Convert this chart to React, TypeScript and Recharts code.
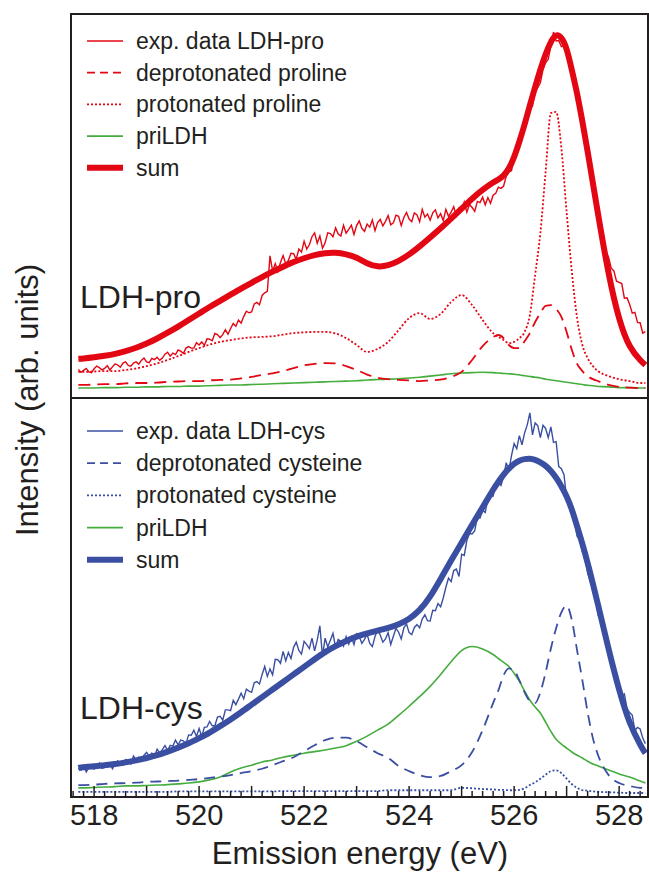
import React from "react";
import { LineChart, Line, XAxis, YAxis, Legend } from "recharts";

// energy axis (eV)
const X_MIN = 517.56;
const X_MAX = 528.55;
const TICKS = Array.from({ length: 55 }, (_, i) => Math.round((517.6 + i * 0.2) * 10) / 10);

// grid of the fitted components
const E_FIT = [
  517.7, 517.8, 518.0, 518.2, 518.4, 518.6, 518.8, 519.0, 519.2, 519.4,
  519.6, 519.8, 520.0, 520.2, 520.4, 520.6, 520.8, 521.0, 521.2, 521.4,
  521.6, 521.8, 522.0, 522.2, 522.4, 522.6, 522.8, 523.0, 523.2, 523.4,
  523.6, 523.8, 524.0, 524.2, 524.4, 524.6, 524.8, 525.0, 525.2, 525.4,
  525.6, 525.7, 525.8, 525.9, 526.0, 526.1, 526.2, 526.3, 526.4, 526.5,
  526.6, 526.7, 526.8, 526.9, 527.0, 527.1, 527.2, 527.3, 527.4, 527.5,
  527.6, 527.8, 528.0, 528.2, 528.4, 528.5,
];

// LDH-pro fit components
const PRO_SUM = [
  10.2, 10.3, 10.6, 11.0, 11.5, 12.2, 13.1, 14.2, 15.5, 17.0,
  18.6, 20.3, 22.0, 23.7, 25.3, 26.9, 28.5, 30.0, 31.5, 32.9,
  34.2, 35.4, 36.4, 37.2, 37.7, 37.8, 37.4, 36.5, 35.1, 34.3,
  34.6, 35.7, 37.4, 39.5, 41.8, 44.2, 46.7, 49.3, 51.9, 54.2,
  56.1, 56.9, 58.0, 59.8, 62.8, 66.8, 71.3, 76.2, 81.0, 85.5,
  89.5, 92.7, 94.4, 93.7, 90.8, 85.4, 79.2, 72.0, 64.2, 56.0,
  47.8, 32.5, 20.8, 13.6, 9.9, 8.6,
];
const PRO_DEPROT = [
  3.4, 3.4, 3.5, 3.6, 3.6, 3.8, 3.9, 3.9, 4.0, 4.2,
  4.3, 4.4, 4.4, 4.6, 4.7, 4.8, 5.1, 5.5, 6.0, 6.4,
  7.0, 7.8, 8.5, 8.9, 9.1, 9.0, 8.3, 7.3, 6.1, 5.3,
  4.9, 4.7, 4.6, 4.4, 4.6, 4.8, 5.5, 6.8, 9.9, 13.5,
  15.9, 16.4, 15.6, 13.8, 13.0, 13.0, 14.8, 16.9, 19.8, 22.1,
  24.0, 24.2, 23.2, 21.1, 17.2, 12.5, 8.9, 7.0, 5.7, 4.9,
  4.4, 3.4, 2.9, 2.7, 2.6, 2.6,
];
const PRO_PROT = [
  6.8, 6.8, 6.9, 7.0, 7.0, 7.3, 7.7, 8.3, 9.0, 9.9,
  10.9, 12.0, 13.0, 13.9, 14.6, 15.1, 15.5, 15.8, 15.9, 16.1,
  16.5, 16.9, 17.1, 17.2, 17.2, 16.8, 15.6, 13.8, 12.0, 12.8,
  14.6, 17.7, 20.8, 22.1, 20.6, 21.9, 25.0, 26.8, 24.2, 20.3,
  16.9, 15.9, 15.1, 14.3, 14.6, 15.6, 17.2, 21.6, 32.0, 43.0,
  58.9, 74.2, 74.5, 65.1, 48.4, 32.8, 20.8, 13.8, 10.4, 8.3,
  7.0, 5.7, 4.9, 4.4, 3.9, 3.9,
];
const PRO_PRILDH = [
  2.6, 2.6, 2.6, 2.7, 2.7, 2.8, 2.8, 2.9, 2.9, 3.0,
  3.0, 3.1, 3.1, 3.2, 3.3, 3.4, 3.4, 3.5, 3.6, 3.7,
  3.8, 3.9, 4.0, 4.1, 4.2, 4.3, 4.4, 4.5, 4.7, 4.8,
  4.9, 5.0, 5.2, 5.4, 5.7, 6.0, 6.3, 6.5, 6.6, 6.7,
  6.6, 6.5, 6.4, 6.3, 6.2, 6.0, 5.8, 5.6, 5.4, 5.2,
  4.9, 4.7, 4.5, 4.3, 4.1, 3.9, 3.7, 3.5, 3.3, 3.2,
  3.0, 2.9, 2.7, 2.7, 2.6, 2.6,
];

// LDH-cys fit components
const CYS_SUM = [
  7.3, 7.5, 7.7, 8.0, 8.3, 8.7, 9.2, 9.8, 10.5, 11.4,
  12.4, 13.5, 14.8, 16.2, 17.8, 19.5, 21.3, 23.2, 25.1, 27.0,
  28.9, 30.8, 32.7, 34.6, 36.4, 37.9, 39.2, 40.3, 41.1, 41.8,
  42.5, 43.4, 44.8, 47.0, 50.4, 54.8, 59.4, 63.9, 68.4, 72.8,
  77.2, 79.2, 81.0, 82.5, 83.7, 84.5, 84.9, 85.0, 84.7, 84.1,
  83.2, 81.9, 80.2, 78.1, 75.5, 72.2, 68.0, 63.6, 58.8, 53.6,
  48.2, 37.2, 27.0, 18.8, 13.2, 11.0,
];
const CYS_DEPROT = [
  3.0, 3.0, 3.1, 3.3, 3.4, 3.5, 3.6, 3.8, 3.9, 4.0,
  4.1, 4.3, 4.5, 4.8, 5.1, 5.5, 6.0, 6.5, 7.1, 8.0,
  9.0, 10.0, 11.5, 13.0, 14.3, 14.9, 14.9, 14.0, 12.5, 11.0,
  9.8, 7.8, 6.5, 5.5, 5.0, 5.3, 6.5, 8.0, 11.3, 16.8,
  23.6, 26.8, 30.6, 32.3, 31.8, 29.3, 26.3, 24.1, 23.6, 26.3,
  31.3, 37.3, 42.4, 46.4, 48.1, 44.4, 36.8, 29.3, 21.3, 14.8,
  10.5, 5.5, 3.5, 2.8, 2.3, 2.3,
];
const CYS_PROT = [
  1.3, 1.3, 1.3, 1.3, 1.3, 1.3, 1.3, 1.3, 1.3, 1.3,
  1.4, 1.4, 1.4, 1.4, 1.4, 1.4, 1.4, 1.4, 1.4, 1.4,
  1.5, 1.5, 1.5, 1.5, 1.5, 1.5, 1.5, 1.5, 1.5, 1.5,
  1.7, 1.7, 1.7, 1.7, 1.7, 1.7, 1.7, 2.3, 2.2, 2.0,
  1.9, 1.8, 1.8, 1.7, 1.7, 1.8, 2.2, 3.0, 3.7, 4.6,
  5.6, 6.5, 6.7, 6.0, 4.6, 3.2, 2.3, 1.7, 1.6, 1.4,
  1.3, 1.2, 1.1, 1.0, 1.0, 1.0,
];
const CYS_PRILDH = [
  2.3, 2.3, 2.4, 2.5, 2.6, 2.8, 2.8, 2.9, 3.0, 3.1,
  3.3, 3.5, 3.8, 4.3, 5.0, 6.3, 7.3, 8.0, 8.8, 9.3,
  10.0, 10.5, 11.0, 11.4, 11.8, 12.3, 12.9, 14.0, 15.3, 16.8,
  18.3, 20.5, 22.8, 25.2, 27.8, 30.8, 34.0, 36.8, 37.8, 37.2,
  35.8, 34.8, 33.8, 32.8, 31.1, 29.1, 26.6, 24.3, 22.6, 21.1,
  18.8, 16.5, 14.5, 13.3, 12.3, 11.3, 10.5, 9.8, 9.0, 8.3,
  7.8, 6.8, 5.8, 5.0, 4.0, 3.5,
];

// measured spectra, 0.05 eV steps from 517.70 eV
const PRO_EXP = [
  7.4, 6.7, 7.2, 7.7, 6.8, 6.6, 7.6, 8.3, 7.9, 7.3,
  7.7, 8.4, 7.3, 8.1, 8.9, 8.6, 8.0, 9.1, 9.4, 8.5,
  8.3, 9.1, 9.4, 8.8, 9.8, 10.4, 9.4, 9.2, 10.3, 10.0,
  10.6, 9.8, 10.4, 11.4, 11.9, 10.9, 11.7, 11.3, 12.5, 12.2,
  11.6, 13.0, 13.4, 13.0, 13.0, 14.4, 13.8, 14.6, 13.7, 15.4,
  15.3, 14.9, 16.8, 16.5, 15.7, 16.5, 17.8, 16.6, 18.1, 19.4,
  18.7, 20.3, 19.5, 21.2, 22.6, 22.2, 22.4, 24.5, 24.9, 24.3,
  26.7, 27.4, 27.8, 37.0, 33.1, 35.0, 32.9, 35.3, 37.1, 34.9,
  35.8, 37.7, 37.6, 36.1, 38.8, 38.0, 40.8, 38.8, 39.9, 42.0,
  43.0, 40.3, 42.2, 39.0, 40.4, 43.0, 42.8, 42.0, 44.3, 42.7,
  42.2, 45.0, 42.9, 43.9, 45.0, 42.6, 44.9, 46.1, 44.2, 43.4,
  45.3, 44.5, 46.4, 43.6, 45.7, 46.5, 44.8, 46.0, 47.5, 45.1,
  45.6, 47.6, 47.3, 44.9, 47.0, 48.3, 46.6, 45.9, 48.2, 47.7,
  45.9, 49.1, 47.1, 47.9, 46.3, 48.2, 49.0, 46.9, 48.0, 46.2,
  49.1, 47.3, 48.4, 49.8, 47.4, 49.4, 48.6, 51.0, 48.4, 50.4,
  49.6, 48.6, 51.2, 50.9, 52.3, 50.3, 52.2, 50.7, 52.8, 53.3,
  54.9, 54.6, 55.2, 57.8, 58.9, 59.2, 62.5, 63.9, 65.3, 69.1,
  69.7, 72.6, 75.5, 76.0, 79.6, 80.8, 82.1, 85.5, 87.3, 88.2,
  91.7, 95.3, 93.0, 93.1, 91.5, 91.8, 89.9, 86.6, 85.4, 81.1,
  79.2, 74.9, 73.0, 69.8, 64.7, 59.8, 57.2, 52.2, 46.9, 44.7,
  38.7, 38.2, 36.6, 33.8, 33.1, 30.4, 30.1, 29.8, 26.0, 26.1,
  24.4, 22.1, 22.3, 19.7, 19.6, 16.9, 17.3,
];
const CYS_EXP = [
  7.2, 6.8, 7.9, 6.3, 7.4, 7.9, 7.0, 7.6, 8.5, 7.2,
  7.5, 8.6, 8.4, 7.1, 8.3, 9.1, 8.3, 8.0, 9.4, 9.2,
  8.3, 10.3, 9.4, 10.0, 9.4, 10.5, 11.2, 10.2, 11.0, 10.2,
  12.0, 11.1, 11.9, 12.9, 11.7, 13.0, 12.8, 14.3, 13.1, 14.3,
  14.1, 13.4, 15.6, 15.5, 16.8, 15.2, 17.2, 15.2, 17.5, 17.6,
  19.0, 17.9, 17.9, 20.1, 20.3, 19.3, 21.9, 21.9, 21.7, 24.3,
  23.2, 24.6, 26.1, 24.7, 27.1, 26.6, 26.3, 28.7, 29.0, 28.4,
  30.8, 32.8, 30.3, 32.2, 30.7, 34.6, 34.5, 33.6, 36.6, 34.2,
  36.3, 34.8, 37.6, 38.9, 36.8, 35.9, 39.1, 38.3, 37.3, 39.9,
  36.7, 39.4, 43.0, 35.4, 39.9, 37.7, 39.4, 41.1, 37.5, 39.6,
  39.1, 37.9, 40.3, 38.4, 40.2, 38.3, 41.0, 40.4, 38.6, 39.6,
  40.9, 38.6, 37.8, 40.3, 42.1, 40.7, 38.9, 39.7, 41.3, 38.3,
  40.4, 42.4, 41.4, 39.7, 42.5, 43.5, 41.3, 40.8, 42.6, 43.3,
  42.5, 44.7, 45.8, 44.3, 44.2, 46.9, 46.8, 48.6, 47.8, 50.0,
  52.7, 55.0, 54.1, 56.9, 57.3, 55.4, 61.0, 60.7, 64.5, 66.2,
  66.1, 66.9, 70.4, 70.1, 72.0, 71.5, 74.9, 75.5, 75.6, 79.0,
  79.2, 78.3, 80.5, 84.0, 82.0, 85.8, 88.8, 87.5, 90.8, 88.5,
  91.5, 93.5, 96.5, 91.0, 94.0, 93.3, 90.3, 93.4, 92.6, 90.3,
  93.0, 89.1, 89.3, 83.0, 82.5, 81.0, 74.9, 73.1, 71.8, 69.2,
  65.5, 64.8, 61.6, 60.6, 56.3, 54.2, 52.8, 50.5, 45.7, 44.3,
  42.2, 38.0, 37.4, 34.9, 31.9, 31.2, 27.7, 25.4, 25.9, 22.2,
  21.2, 20.6, 16.7, 17.5, 17.1, 14.8, 13.4,
];

const RED = "#e30613";
const BLUE = "#3b4fa2";
const GREEN = "#45ad3e";
const INK = "#231f20";
const FONT = '"Liberation Sans", Arial, Helvetica, sans-serif';

const fit = (vals: number[]) => vals.map((v, i) => ({ e: E_FIT[i], v }));
const exp = (vals: number[]) => vals.map((v, i) => ({ e: Math.round((517.7 + i * 0.05) * 100) / 100, v }));

interface LegendItem {
  label: string;
  color: string;
  width: number;
  dash?: string;
}

const PRO_LEGEND: LegendItem[] = [
  { label: "exp. data LDH-pro", color: RED, width: 1.6 },
  { label: "deprotonated proline", color: RED, width: 1.8, dash: "8 5" },
  { label: "protonated proline", color: RED, width: 1.8, dash: "2 2" },
  { label: "priLDH", color: GREEN, width: 1.6 },
  { label: "sum", color: RED, width: 6 },
];

const CYS_LEGEND: LegendItem[] = [
  { label: "exp. data LDH-cys", color: BLUE, width: 1.6 },
  { label: "deprotonated cysteine", color: BLUE, width: 1.8, dash: "8 5" },
  { label: "protonated cysteine", color: BLUE, width: 1.8, dash: "2 2" },
  { label: "priLDH", color: GREEN, width: 1.6 },
  { label: "sum", color: BLUE, width: 6 },
];

function PanelLegend({ items, gap }: { items: LegendItem[]; gap: number }) {
  return (
    <svg width={340} height={items.length * gap + 10} style={{ display: "block" }}>
      {items.map((it, i) => {
        const y = 16 + i * gap;
        return (
          <g key={it.label}>
            <line x1={3} x2={39} y1={y} y2={y} stroke={it.color} strokeWidth={it.width} strokeDasharray={it.dash} />
            <text x={52} y={y + 8} fontSize={23} fill={INK} fontFamily={FONT}>
              {it.label}
            </text>
          </g>
        );
      })}
    </svg>
  );
}

function EnergyTick(props: any) {
  const { x, y, payload } = props;
  const v = payload.value as number;
  const major = Math.abs(v - Math.round(v)) < 0.01;
  const labeled = major && Math.round(v) % 2 === 0;
  return (
    <g>
      <line x1={x} x2={x} y1={y} y2={y - (major ? 11 : 6)} stroke={INK} strokeWidth={1.5} />
      {labeled && (
        <text x={x} y={y + 28} textAnchor="middle" fontSize={29} fill={INK} fontFamily={FONT}>
          {Math.round(v)}
        </text>
      )}
    </g>
  );
}

export default function App() {
  return (
    <div style={{ position: "absolute", left: 0, top: 0, width: 649, height: 872, background: "#fff", fontFamily: FONT }}>
      <div style={{ position: "absolute", left: 0, top: 0 }}>
        <LineChart width={649} height={400} margin={{ top: 14, right: 1, left: 71, bottom: 2 }}>
          <XAxis type="number" dataKey="e" domain={[X_MIN, X_MAX]} hide allowDataOverflow />
          <YAxis type="number" domain={[0, 100]} hide allowDataOverflow />
          <Legend
            layout="vertical"
            align="center"
            verticalAlign="middle"
            wrapperStyle={{ left: 84, top: 25, width: 340 }}
            content={() => <PanelLegend items={PRO_LEGEND} gap={31.7} />}
          />
          <Line data={fit(PRO_PRILDH)} dataKey="v" type="natural" stroke={GREEN} strokeWidth={1.6} dot={false} isAnimationActive={false} />
          <Line data={fit(PRO_PROT)} dataKey="v" type="monotone" stroke={RED} strokeWidth={1.8} strokeDasharray="2 2" dot={false} isAnimationActive={false} />
          <Line data={fit(PRO_DEPROT)} dataKey="v" type="monotone" stroke={RED} strokeWidth={1.8} strokeDasharray="12 7" dot={false} isAnimationActive={false} />
          <Line data={exp(PRO_EXP)} dataKey="v" type="linear" stroke={RED} strokeWidth={1.4} dot={false} isAnimationActive={false} />
          <Line data={fit(PRO_SUM)} dataKey="v" type="natural" stroke={RED} strokeWidth={6} dot={false} isAnimationActive={false} />
        </LineChart>
      </div>
      <div style={{ position: "absolute", left: 0, top: 399 }}>
        <LineChart width={649} height={473} margin={{ top: 0, right: 1, left: 71, bottom: 45 }}>
          <XAxis
            type="number"
            dataKey="e"
            domain={[X_MIN, X_MAX]}
            ticks={TICKS}
            interval={0}
            tick={(p: any) => <EnergyTick {...p} />}
            tickLine={false}
            axisLine={false}
            tickSize={0}
            tickMargin={0}
            height={30}
            allowDataOverflow
          />
          <YAxis type="number" domain={[0, 100]} hide allowDataOverflow />
          <Legend
            layout="vertical"
            align="center"
            verticalAlign="middle"
            wrapperStyle={{ left: 84, top: 16, width: 340 }}
            content={() => <PanelLegend items={CYS_LEGEND} gap={32.2} />}
          />
          <Line data={fit(CYS_PROT)} dataKey="v" type="monotone" stroke={BLUE} strokeWidth={1.8} strokeDasharray="2 2" dot={false} isAnimationActive={false} />
          <Line data={fit(CYS_PRILDH)} dataKey="v" type="monotone" stroke={GREEN} strokeWidth={1.6} dot={false} isAnimationActive={false} />
          <Line data={fit(CYS_DEPROT)} dataKey="v" type="monotone" stroke={BLUE} strokeWidth={1.8} strokeDasharray="11 7" dot={false} isAnimationActive={false} />
          <Line data={exp(CYS_EXP)} dataKey="v" type="linear" stroke={BLUE} strokeWidth={1.4} dot={false} isAnimationActive={false} />
          <Line data={fit(CYS_SUM)} dataKey="v" type="natural" stroke={BLUE} strokeWidth={6} dot={false} isAnimationActive={false} />
        </LineChart>
      </div>
      <svg width={649} height={872} style={{ position: "absolute", left: 0, top: 0, pointerEvents: "none" }}>
        <rect x={71} y={14} width={577} height={384} fill="none" stroke={INK} strokeWidth={2} />
        <rect x={71} y={398} width={577} height={399} fill="none" stroke={INK} strokeWidth={2} />
        <text x={80} y={308} fontSize={32} fill={INK} fontFamily={FONT}>LDH-pro</text>
        <text x={80} y={719} fontSize={32} fill={INK} fontFamily={FONT}>LDH-cys</text>
        <text x={360} y={864} textAnchor="middle" fontSize={31} fill={INK} fontFamily={FONT}>
          Emission energy (eV)
        </text>
        <text
          x={0}
          y={0}
          transform="translate(38 400) rotate(-90)"
          textAnchor="middle"
          fontSize={31}
          fill={INK}
          fontFamily={FONT}
        >
          Intensity (arb. units)
        </text>
      </svg>
    </div>
  );
}
